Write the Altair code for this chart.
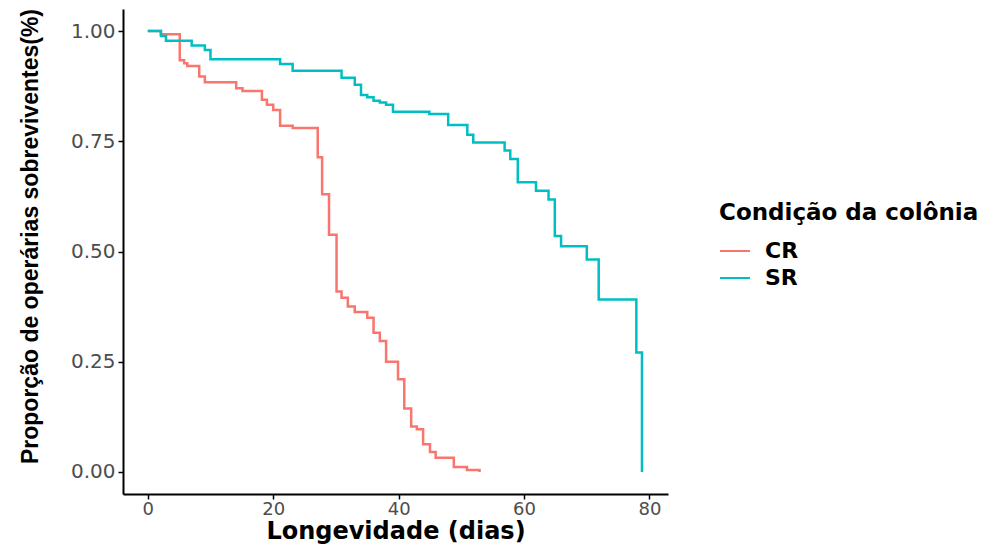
import altair as alt
import pandas as pd

# Kaplan-Meier style survival steps
cr_days = [0, 2.1, 5.1, 5.8, 6.3, 8.2, 9.1, 14.1, 15.1, 18.2, 19.0, 20.0, 21.1, 23.1,
           27.1, 27.8, 28.9, 30.1, 30.9, 31.9, 33.0, 35.0, 36.0, 37.0, 38.0, 39.9,
           40.9, 42.0, 42.9, 43.9, 45.0, 45.9, 48.8, 50.9, 52.9]
cr_surv = [1.0, 0.993, 0.934, 0.927, 0.921, 0.897, 0.884, 0.870, 0.864, 0.844, 0.833,
           0.821, 0.785, 0.780, 0.714, 0.630, 0.538, 0.409, 0.395, 0.375, 0.363, 0.350,
           0.316, 0.297, 0.250, 0.210, 0.144, 0.103, 0.097, 0.063, 0.045, 0.032, 0.011,
           0.0045, 0.0]

sr_days = [0, 2.1, 2.9, 7.0, 9.1, 10.0, 21.1, 23.1, 30.9, 33.0, 34.0, 35.0, 36.0, 37.0,
           38.0, 39.1, 44.9, 47.9, 50.95, 51.9, 56.9, 57.8, 59.0, 61.9, 63.9, 64.9,
           65.9, 70.0, 71.9, 77.9, 78.8]
sr_surv = [1.0, 0.989, 0.978, 0.967, 0.957, 0.936, 0.925, 0.910, 0.894, 0.878, 0.855,
           0.850, 0.842, 0.838, 0.833, 0.817, 0.812, 0.787, 0.765, 0.747, 0.729, 0.710,
           0.657, 0.638, 0.618, 0.535, 0.512, 0.482, 0.391, 0.271, 0.0]

groups = ["CR", "SR"]
colors = ["#F8766D", "#00BFC4"]
x_ticks = [0, 20, 40, 60, 80]
y_ticks = [0.0, 0.25, 0.5, 0.75, 1.0]

df = pd.concat([
    pd.DataFrame({"dia": cr_days, "surv": cr_surv, "grupo": "CR"}),
    pd.DataFrame({"dia": sr_days, "surv": sr_surv, "grupo": "SR"}),
])

chart = alt.Chart(df).mark_line(interpolate="step-after", strokeWidth=2.5).encode(
    x=alt.X("dia:Q",
            scale=alt.Scale(domain=[-3.95, 82.95], nice=False, zero=False),
            axis=alt.Axis(values=x_ticks, title="Longevidade (dias)", format="d",
                          labelFont="DejaVu Sans", labelFontSize=18, labelColor="#4d4d4d",
                          labelPadding=1, titleFont="DejaVu Sans", titleFontWeight="bold",
                          titleFontSize=24, titleColor="black", titlePadding=1)),
    y=alt.Y("surv:Q",
            scale=alt.Scale(domain=[-0.05, 1.05], nice=False, zero=False),
            axis=alt.Axis(values=y_ticks, format=".2f",
                          title="Proporção de operárias sobreviventes(%)",
                          labelFont="DejaVu Sans", labelFontSize=20, labelColor="#4d4d4d",
                          labelPadding=3,
                          titleFont="Liberation Sans", titleLimit=600,
                          titleFontWeight="bold", titleFontSize=23, titleColor="black",
                          titleX=-93, titleY=227, titleBaseline="middle")),
    color=alt.Color("grupo:N", scale=alt.Scale(domain=groups, range=colors),
                    legend=alt.Legend(title="Condição da colônia", orient="none",
                                      legendX=596, legendY=193, titleLimit=400,
                                      titleFont="DejaVu Sans", titleFontSize=23,
                                      titleFontWeight="bold", titleColor="black",
                                      titlePadding=10,
                                      labelFont="DejaVu Sans", labelFontSize=22,
                                      labelFontWeight="bold", labelColor="black",
                                      labelOffset=14, symbolType="stroke",
                                      symbolSize=900, symbolStrokeWidth=2,
                                      rowPadding=0, padding=0)),
).properties(
    width=545, height=485,
    autosize=alt.AutoSizeParams(type="none"),
    padding={"left": 123, "top": 9, "right": 326, "bottom": 55},
).configure_view(stroke=None).configure_axis(
    grid=False, domainColor="black", domainWidth=2, tickColor="black",
    tickWidth=1.5, tickSize=5,
)

chart.save("out.html", embed_options={"renderer": "svg", "actions": False})
